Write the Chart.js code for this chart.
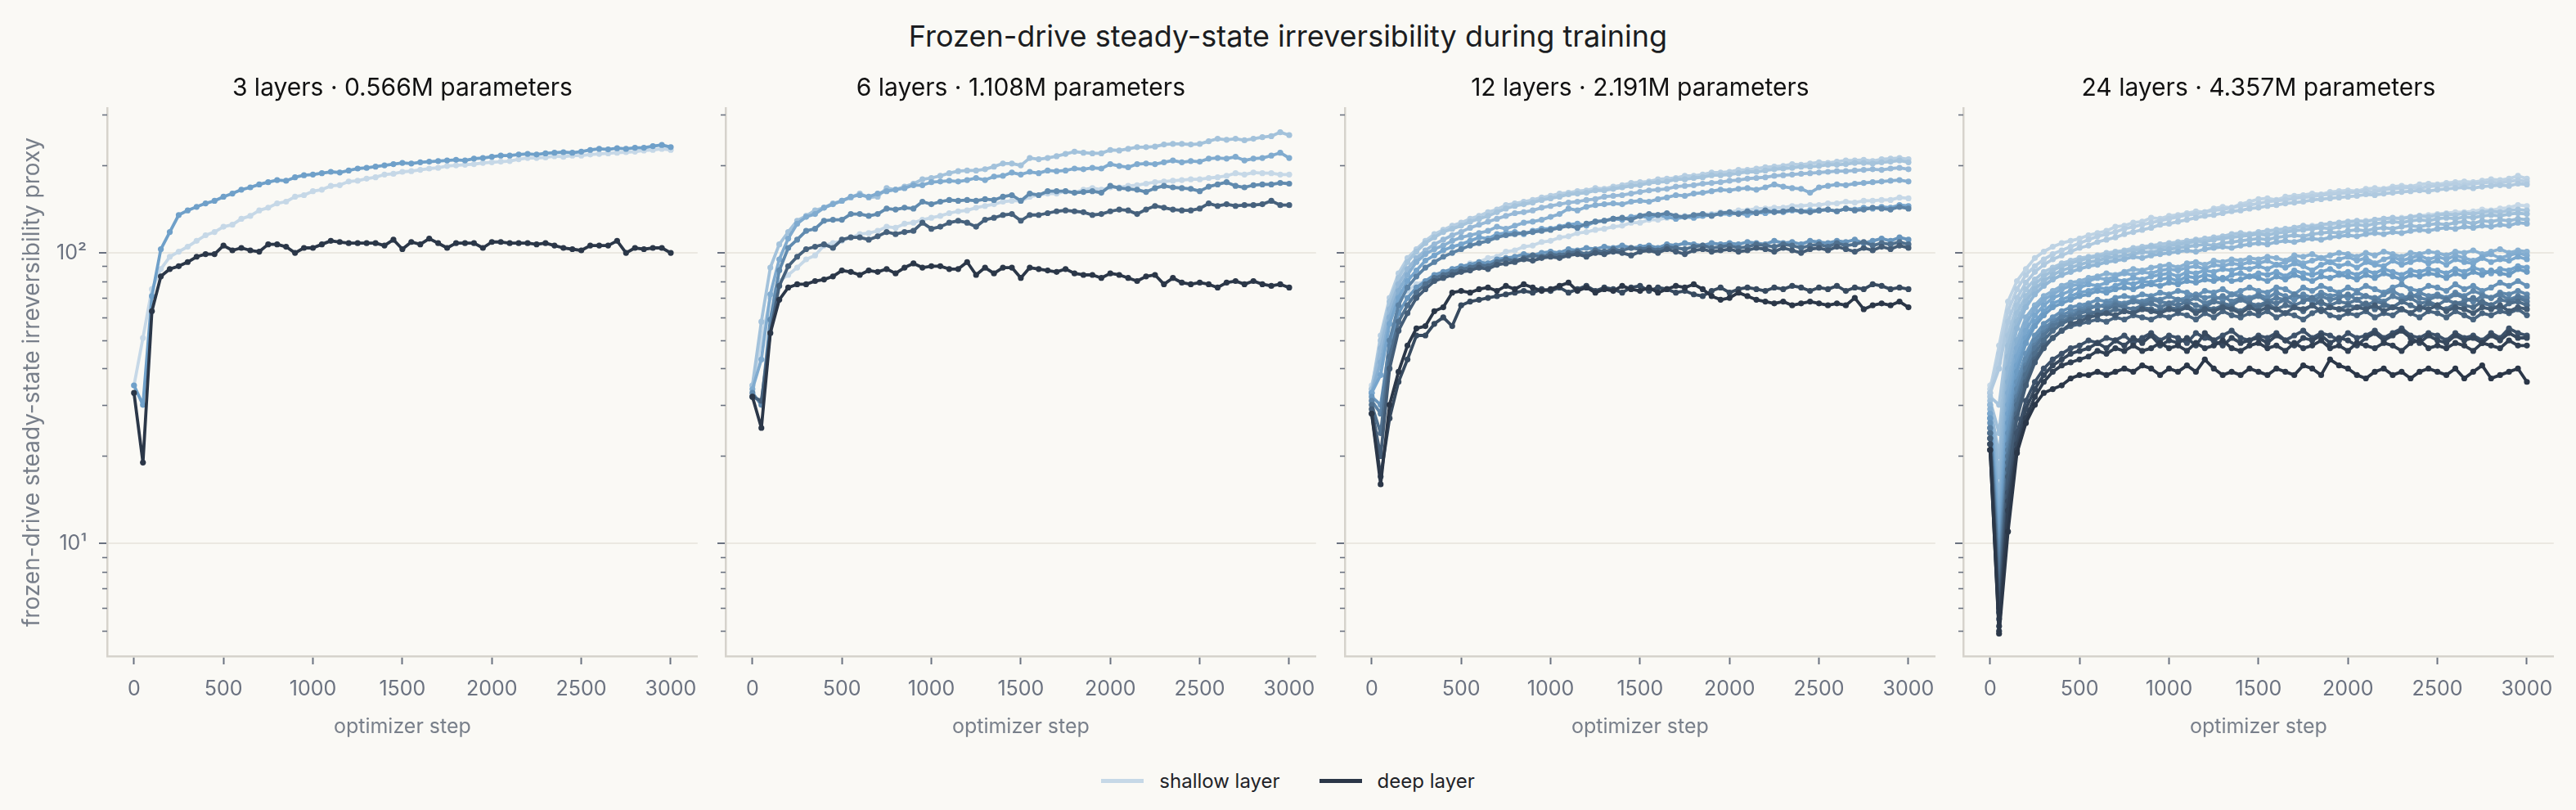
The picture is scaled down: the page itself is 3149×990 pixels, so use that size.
<!DOCTYPE html>
<html>
<head>
<meta charset="utf-8">
<title>Frozen-drive steady-state irreversibility during training</title>
<script src="https://cdn.jsdelivr.net/npm/chart.js@4.4.1/dist/chart.umd.min.js"></script>
<style>
  html, body { margin: 0; padding: 0; background: #faf9f5; }
  #fig { position: relative; width: 3149px; height: 990px; background: #faf9f5; overflow: hidden;
         font-family: Inter, 'Noto Sans', sans-serif; }
  #suptitle { position: absolute; left: 0; top: 22px; width: 3149px; text-align: center;
              font-size: 36px; line-height: 44px; color: #1b1d21; }
  canvas { position: absolute; }
  #legend { position: absolute; left: 0; top: 934px; width: 3149px; height: 40px;
            display: flex; justify-content: center; align-items: center;
            font-size: 24px; color: #1f2328; }
  .item { display: flex; align-items: center; margin: 0 24px; }
  .swatch { width: 52px; height: 5px; margin-right: 19px; }
</style>
</head>
<body>
<div id="fig">
  <div id="suptitle">Frozen-drive steady-state irreversibility during training</div>
  <canvas id="c0"></canvas>
  <canvas id="c1"></canvas>
  <canvas id="c2"></canvas>
  <canvas id="c3"></canvas>
  <div id="legend">
    <div class="item"><span class="swatch" id="swShallow"></span><span>shallow layer</span></div>
    <div class="item"><span class="swatch" id="swDeep"></span><span>deep layer</span></div>
  </div>
</div>
<script>
// optimizer steps (every 50)
const steps = [
  0, 50, 100, 150, 200, 250, 300, 350, 400, 450,
  500, 550, 600, 650, 700, 750, 800, 850, 900, 950,
  1000, 1050, 1100, 1150, 1200, 1250, 1300, 1350, 1400, 1450,
  1500, 1550, 1600, 1650, 1700, 1750, 1800, 1850, 1900, 1950,
  2000, 2050, 2100, 2150, 2200, 2250, 2300, 2350, 2400, 2450,
  2500, 2550, 2600, 2650, 2700, 2750, 2800, 2850, 2900, 2950,
  3000,
]

const xTicks = [0, 500, 1000, 1500, 2000, 2500, 3000]
const yTicks = [10, 100]
const yTickLabels = ['10¹', '10²']
const yMinorTicks = [5, 6, 7, 8, 9, 20, 30, 40, 50, 60, 70, 80, 90, 200, 300]

const panelTitles = [
  '3 layers · 0.566M parameters',
  '6 layers · 1.108M parameters',
  '12 layers · 2.191M parameters',
  '24 layers · 4.357M parameters',
]

// 3 layers, shallow -> deep
const layers3 = [
  [35, 51, 75, 88, 97, 101, 105, 110, 115, 118,
   123, 125, 131, 134, 140, 143, 148, 150, 156, 158,
   163, 165, 170, 171, 176, 177, 180, 182, 186, 187,
   190, 191, 193, 195, 196, 199, 200, 201, 202, 204,
   205, 206, 207, 210, 212, 212, 213, 215, 214, 216,
   216, 218, 219, 220, 221, 222, 223, 225, 226, 228,
   226],
  [35, 30, 71, 103, 118, 135, 140, 144, 148, 151,
   156, 160, 165, 168, 172, 175, 178, 177, 182, 185,
   186, 188, 190, 189, 192, 195, 196, 198, 200, 202,
   204, 203, 205, 206, 207, 208, 209, 208, 211, 212,
   214, 216, 216, 218, 219, 218, 220, 221, 222, 221,
   223, 226, 228, 227, 229, 228, 230, 230, 233, 235,
   231],
  [33, 19, 63, 83, 88, 90, 93, 97, 99, 99,
   106, 102, 104, 102, 101, 107, 107, 105, 100, 104,
   104, 107, 110, 109, 108, 108, 108, 108, 106, 111,
   103, 109, 107, 112, 108, 104, 108, 108, 108, 104,
   109, 109, 108, 108, 108, 107, 108, 106, 104, 103,
   102, 106, 106, 106, 110, 100, 104, 103, 104, 104,
   100],
]

// 6 layers
const layers6 = [
  [35, 50, 70, 80, 84, 89, 95, 98, 106, 108,
   110, 113, 116, 117, 119, 123, 122, 126, 127, 130,
   132, 134, 137, 139, 140, 143, 145, 147, 150, 151,
   151, 156, 158, 160, 160, 163, 161, 165, 167, 165,
   168, 168, 170, 171, 173, 175, 176, 177, 178, 179,
   179, 181, 182, 184, 188, 186, 189, 188, 188, 186,
   186],
  [35, 58, 89, 107, 118, 129, 134, 140, 143, 148,
   151, 155, 160, 155, 156, 167, 165, 169, 173, 179,
   181, 184, 188, 191, 192, 192, 194, 198, 203, 203,
   200, 212, 210, 212, 215, 219, 223, 221, 220, 220,
   226, 225, 228, 231, 231, 232, 236, 237, 237, 236,
   237, 242, 247, 245, 247, 244, 247, 250, 252, 260,
   254],
  [34, 43, 72, 95, 112, 126, 133, 136, 143, 147,
   151, 156, 158, 156, 160, 163, 165, 167, 171, 171,
   175, 176, 177, 176, 178, 181, 178, 183, 184, 189,
   186, 190, 188, 192, 191, 192, 195, 194, 196, 195,
   202, 199, 197, 202, 203, 202, 205, 208, 205, 207,
   206, 211, 212, 211, 214, 208, 211, 212, 216, 221,
   212],
  [33, 30, 59, 87, 104, 111, 119, 121, 129, 130,
   130, 136, 136, 134, 136, 142, 141, 143, 142, 150,
   147, 150, 152, 151, 152, 151, 153, 152, 156, 158,
   151, 160, 158, 163, 163, 163, 161, 162, 163, 161,
   170, 167, 166, 165, 162, 167, 170, 168, 167, 166,
   163, 169, 172, 175, 170, 168, 171, 172, 172, 174,
   173],
  [32, 31, 53, 77, 90, 97, 103, 105, 107, 104,
   111, 113, 113, 111, 114, 118, 116, 118, 119, 127,
   121, 123, 127, 129, 127, 123, 130, 132, 135, 136,
   129, 135, 135, 137, 139, 140, 139, 138, 135, 136,
   139, 141, 140, 136, 141, 145, 143, 141, 140, 140,
   142, 148, 145, 147, 145, 146, 146, 147, 151, 146,
   146],
  [32, 25, 53, 69, 76, 78, 78, 80, 81, 83,
   87, 86, 84, 87, 86, 88, 85, 89, 92, 89,
   90, 90, 88, 88, 93, 84, 89, 85, 89, 89,
   82, 89, 88, 87, 86, 88, 85, 84, 84, 82,
   85, 84, 82, 80, 83, 84, 78, 82, 79, 78,
   79, 78, 76, 79, 80, 78, 80, 78, 77, 78,
   76],
]

// 12 layers
const layers12 = [
  [35, 48, 62, 70, 74, 78, 80, 83, 84, 88,
   89, 92, 93, 96, 97, 101, 102, 105, 106, 109,
   110, 113, 114, 117, 118, 120, 121, 123, 124, 127,
   127, 130, 130, 132, 132, 134, 134, 136, 136, 138,
   138, 140, 140, 142, 142, 143, 143, 145, 145, 146,
   146, 148, 148, 150, 149, 151, 151, 152, 152, 155,
   154],
  [34, 52, 70, 85, 96, 103, 110, 116, 120, 124,
   127, 131, 134, 138, 141, 146, 148, 150, 152, 155,
   157, 160, 161, 163, 164, 167, 166, 169, 171, 174,
   175, 176, 179, 180, 181, 184, 184, 186, 189, 189,
   190, 193, 193, 195, 197, 198, 199, 202, 201, 203,
   205, 204, 206, 208, 208, 209, 207, 210, 211, 212,
   210],
  [34, 50, 68, 82, 93, 101, 108, 113, 118, 121,
   124, 128, 131, 134, 138, 142, 145, 147, 149, 152,
   154, 156, 159, 160, 161, 164, 164, 166, 168, 170,
   171, 174, 175, 176, 179, 179, 181, 182, 185, 185,
   186, 188, 190, 190, 192, 194, 195, 196, 198, 198,
   199, 201, 201, 202, 204, 204, 203, 205, 206, 208,
   205],
  [33, 47, 64, 78, 88, 96, 102, 107, 111, 115,
   118, 122, 125, 128, 131, 134, 137, 138, 140, 143,
   145, 147, 149, 150, 152, 153, 156, 157, 158, 160,
   162, 164, 165, 166, 169, 170, 171, 173, 174, 175,
   177, 178, 180, 181, 182, 184, 185, 186, 187, 188,
   189, 190, 191, 191, 192, 193, 194, 193, 195, 196,
   194],
  [33, 42, 60, 74, 84, 93, 99, 103, 106, 110,
   113, 115, 117, 119, 123, 121, 124, 127, 128, 130,
   133, 136, 142, 140, 144, 146, 147, 148, 147, 150,
   151, 150, 153, 155, 158, 157, 160, 161, 163, 165,
   164, 166, 167, 165, 168, 172, 169, 167, 166, 161,
   168, 170, 172, 171, 173, 174, 175, 176, 177, 178,
   176],
  [33, 38, 57, 70, 80, 87, 94, 98, 102, 105,
   107, 110, 113, 112, 116, 117, 118, 116, 119, 121,
   121, 123, 125, 126, 124, 128, 129, 131, 130, 133,
   134, 132, 135, 133, 131, 133, 132, 134, 135, 136,
   136, 137, 135, 138, 137, 139, 138, 140, 139, 140,
   140, 141, 139, 142, 141, 143, 142, 144, 143, 146,
   145],
  [32, 30, 48, 62, 70, 76, 80, 84, 86, 88,
   90, 91, 93, 92, 95, 96, 97, 99, 98, 100,
   101, 100, 103, 102, 104, 103, 105, 104, 106, 104,
   105, 106, 104, 107, 106, 108, 107, 106, 108, 107,
   108, 107, 109, 108, 107, 110, 108, 109, 107, 110,
   109, 108, 110, 109, 111, 108, 110, 112, 110, 113,
   111],
  [31, 28, 50, 66, 76, 83, 89, 93, 97, 100,
   103, 106, 108, 110, 113, 115, 116, 117, 118, 119,
   120, 122, 124, 122, 126, 128, 129, 131, 132, 130,
   134, 136, 135, 137, 134, 133, 135, 136, 134, 137,
   138, 136, 139, 137, 140, 138, 139, 141, 139, 138,
   140, 141, 139, 142, 140, 141, 143, 142, 141, 144,
   142],
  [30, 24, 44, 58, 66, 73, 78, 82, 84, 86,
   88, 89, 91, 90, 93, 95, 94, 96, 98, 97,
   99, 98, 100, 101, 99, 102, 101, 103, 102, 104,
   103, 104, 102, 105, 104, 103, 105, 106, 104, 105,
   106, 104, 105, 107, 106, 105, 107, 106, 104, 106,
   107, 105, 108, 106, 107, 109, 106, 108, 107, 109,
   107],
  [29, 20, 40, 54, 62, 70, 75, 80, 82, 84,
   86, 87, 89, 88, 91, 92, 93, 95, 94, 96,
   97, 96, 98, 99, 97, 100, 99, 101, 100, 98,
   101, 102, 100, 103, 101, 99, 102, 103, 101, 102,
   103, 101, 102, 104, 103, 101, 104, 102, 100, 103,
   104, 102, 105, 103, 101, 104, 102, 105, 103, 106,
   104],
  [28, 17, 27, 36, 43, 52, 52, 57, 60, 56,
   66, 68, 69, 70, 71, 72, 73, 74, 73, 75,
   74, 76, 73, 75, 77, 74, 76, 75, 73, 76,
   77, 74, 76, 75, 73, 74, 72, 71, 74, 76,
   73, 75, 76, 75, 74, 76, 75, 77, 76, 74,
   76, 75, 77, 74, 76, 75, 78, 77, 75, 76,
   75],
  [28, 16, 30, 39, 48, 55, 56, 63, 65, 73,
   74, 73, 75, 76, 74, 77, 75, 78, 76, 74,
   75, 77, 79, 74, 76, 73, 75, 74, 77, 75,
   74, 76, 73, 75, 77, 76, 78, 75, 71, 69,
   70, 73, 71, 69, 68, 67, 68, 66, 67, 68,
   67, 66, 67, 66, 70, 64, 66, 67, 66, 68,
   65],
]

// 24 layers
const layers24 = [
  [35, 42, 55, 64, 70, 75, 78, 81, 84, 86,
   88, 90, 92, 94, 95, 97, 99, 100, 102, 103,
   104, 106, 107, 109, 110, 111, 113, 114, 115, 116,
   117, 118, 120, 120, 122, 123, 124, 125, 125, 126,
   127, 128, 129, 130, 131, 131, 132, 133, 134, 135,
   136, 137, 138, 138, 139, 141, 140, 142, 143, 146,
   145],
  [34, 48, 68, 80, 88, 96, 101, 105, 108, 110,
   112, 115, 117, 119, 123, 124, 127, 128, 132, 131,
   134, 135, 137, 139, 138, 142, 144, 143, 147, 150,
   153, 154, 152, 156, 157, 158, 160, 159, 162, 163,
   164, 163, 166, 167, 166, 169, 170, 169, 172, 173,
   172, 174, 175, 176, 175, 177, 179, 178, 180, 184,
   180],
  [33, 45, 63, 75, 84, 90, 95, 99, 102, 105,
   108, 111, 114, 116, 118, 121, 123, 125, 127, 129,
   131, 133, 135, 136, 138, 140, 141, 143, 145, 146,
   148, 150, 151, 152, 154, 155, 156, 158, 159, 160,
   161, 162, 163, 162, 165, 166, 167, 168, 167, 169,
   170, 171, 172, 171, 173, 174, 175, 174, 176, 178,
   176],
  [33, 40, 58, 70, 79, 86, 91, 95, 98, 101,
   104, 106, 109, 111, 113, 116, 118, 120, 122, 125,
   126, 128, 130, 132, 134, 135, 137, 139, 140, 142,
   143, 145, 146, 148, 149, 150, 152, 153, 154, 155,
   156, 157, 159, 158, 160, 161, 162, 163, 164, 163,
   165, 166, 167, 168, 167, 169, 170, 171, 170, 173,
   172],
  [32, 30, 52, 66, 75, 81, 86, 89, 92, 94,
   96, 97, 98, 100, 101, 102, 104, 105, 106, 107,
   108, 109, 110, 111, 112, 113, 114, 116, 117, 116,
   118, 119, 120, 121, 122, 124, 123, 125, 126, 127,
   128, 129, 128, 130, 131, 132, 131, 133, 134, 133,
   135, 136, 135, 137, 136, 138, 139, 138, 140, 141,
   140],
  [31, 24, 48, 62, 71, 78, 83, 87, 90, 92,
   94, 96, 97, 98, 100, 101, 102, 103, 105, 104,
   106, 107, 108, 110, 109, 111, 112, 113, 114, 115,
   116, 115, 117, 118, 119, 120, 121, 122, 121, 123,
   124, 125, 124, 126, 127, 128, 127, 129, 130, 129,
   131, 132, 131, 133, 132, 134, 135, 134, 136, 137,
   136],
  [30, 20, 44, 58, 68, 75, 80, 84, 87, 89,
   91, 93, 94, 96, 97, 98, 99, 101, 100, 102,
   103, 104, 105, 106, 107, 106, 108, 109, 110, 111,
   112, 111, 113, 114, 115, 114, 116, 117, 118, 117,
   119, 120, 119, 121, 122, 121, 123, 124, 123, 125,
   126, 125, 127, 128, 126, 129, 128, 130, 129, 131,
   130],
  [30, 17, 40, 55, 65, 72, 77, 81, 84, 86,
   88, 90, 91, 93, 94, 95, 97, 96, 98, 99,
   100, 101, 102, 101, 103, 104, 105, 104, 106, 107,
   108, 107, 109, 110, 109, 111, 112, 111, 113, 114,
   115, 114, 116, 117, 116, 118, 117, 119, 120, 119,
   121, 122, 121, 123, 122, 124, 123, 125, 124, 127,
   126],
  [29, 14, 36, 50, 60, 66, 71, 74, 77, 79,
   80, 82, 83, 85, 84, 86, 88, 87, 89, 90,
   91, 89, 92, 93, 91, 94, 93, 95, 94, 96,
   95, 97, 96, 94, 98, 97, 99, 96, 98, 100,
   99, 97, 100, 98, 101, 99, 97, 100, 99, 101,
   100, 98, 101, 100, 102, 99, 101, 103, 100, 102,
   101],
  [28, 12, 33, 47, 57, 64, 69, 72, 75, 77,
   78, 80, 82, 81, 83, 85, 84, 86, 85, 87,
   88, 87, 89, 90, 88, 91, 90, 92, 91, 93,
   92, 94, 91, 93, 95, 92, 94, 96, 93, 95,
   97, 94, 96, 92, 95, 97, 94, 96, 98, 95,
   97, 95, 98, 96, 94, 97, 99, 96, 98, 100,
   98],
  [28, 11, 30, 44, 54, 61, 66, 70, 72, 74,
   76, 78, 77, 79, 81, 80, 82, 81, 83, 84,
   85, 83, 86, 85, 87, 86, 88, 87, 89, 88,
   90, 88, 91, 89, 92, 90, 87, 91, 93, 90,
   92, 89, 93, 91, 90, 94, 91, 93, 95, 92,
   94, 91, 95, 93, 92, 96, 93, 95, 94, 97,
   95],
  [27, 10, 28, 41, 51, 58, 63, 67, 69, 71,
   73, 74, 76, 75, 77, 79, 78, 80, 79, 81,
   82, 80, 83, 82, 84, 83, 81, 84, 85, 83,
   85, 84, 86, 83, 87, 85, 84, 86, 88, 85,
   86, 84, 87, 85, 88, 86, 84, 87, 86, 88,
   87, 85, 88, 86, 89, 87, 85, 88, 87, 90,
   89],
  [27, 9, 26, 39, 49, 56, 61, 65, 67, 69,
   71, 72, 74, 73, 75, 76, 75, 77, 78, 77,
   79, 78, 80, 79, 81, 80, 82, 80, 81, 83,
   82, 80, 83, 81, 84, 82, 80, 83, 82, 84,
   83, 81, 84, 82, 85, 83, 81, 84, 83, 85,
   84, 82, 85, 83, 86, 84, 87, 85, 84, 88,
   86],
  [26, 8.5, 24, 36, 45, 52, 57, 60, 63, 65,
   66, 67, 69, 68, 70, 71, 70, 72, 71, 73,
   72, 74, 73, 71, 74, 73, 75, 72, 74, 76,
   74, 73, 76, 75, 72, 76, 74, 77, 75, 73,
   76, 74, 77, 75, 73, 76, 78, 75, 74, 77,
   76, 74, 78, 75, 77, 74, 76, 79, 77, 80,
   77],
  [25, 8, 22, 34, 43, 50, 55, 58, 61, 63,
   64, 66, 65, 67, 68, 67, 69, 68, 70, 69,
   71, 69, 70, 72, 70, 71, 69, 72, 71, 70,
   72, 70, 73, 71, 69, 72, 70, 73, 71, 72,
   70, 73, 71, 69, 72, 74, 71, 70, 73, 71,
   72, 70, 73, 71, 74, 72, 70, 73, 72, 74,
   72],
  [25, 7.5, 21, 32, 41, 48, 53, 57, 60, 61,
   63, 64, 66, 65, 67, 66, 68, 67, 69, 68,
   67, 69, 68, 70, 67, 69, 71, 68, 70, 69,
   71, 68, 70, 69, 72, 70, 68, 71, 69, 70,
   72, 69, 71, 70, 68, 71, 69, 72, 70, 69,
   71, 69, 72, 70, 68, 71, 70, 72, 69, 71,
   70],
  [24, 7, 20, 31, 40, 47, 52, 56, 58, 60,
   62, 63, 62, 64, 66, 65, 64, 66, 67, 65,
   67, 66, 68, 66, 65, 68, 67, 66, 69, 67,
   66, 68, 67, 69, 66, 68, 70, 67, 66, 68,
   67, 69, 66, 68, 67, 65, 68, 70, 67, 68,
   66, 69, 67, 68, 70, 67, 66, 69, 68, 70,
   68],
  [24, 6.5, 19, 30, 38, 45, 50, 54, 57, 59,
   60, 61, 63, 62, 64, 63, 62, 65, 64, 63,
   65, 64, 66, 63, 65, 64, 66, 65, 63, 66,
   65, 67, 64, 66, 65, 63, 66, 68, 65, 64,
   66, 65, 67, 64, 66, 65, 68, 66, 64, 67,
   65, 64, 67, 66, 65, 68, 66, 64, 67, 68,
   66],
  [23, 6, 18, 28, 36, 43, 48, 51, 54, 56,
   57, 58, 59, 58, 60, 59, 61, 60, 59, 61,
   60, 62, 61, 59, 62, 60, 63, 61, 60, 62,
   61, 63, 60, 62, 61, 59, 62, 64, 61, 60,
   62, 61, 63, 60, 62, 61, 64, 62, 60, 63,
   62, 60, 63, 61, 59, 62, 61, 63, 62, 64,
   61],
  [23, 5.8, 17, 27, 35, 42, 47, 51, 54, 57,
   58, 60, 61, 62, 61, 63, 62, 64, 63, 62,
   64, 63, 65, 62, 64, 63, 65, 64, 62, 65,
   63, 65, 64, 62, 65, 64, 66, 63, 65, 64,
   63, 65, 64, 66, 63, 65, 64, 62, 65, 64,
   66, 63, 65, 64, 62, 65, 64, 66, 63, 65,
   64],
  [22, 5.5, 15, 24, 31, 36, 40, 43, 45, 47,
   48, 50, 49, 51, 50, 52, 49, 51, 53, 50,
   52, 51, 49, 53, 51, 50, 52, 54, 51, 50,
   52, 51, 53, 50, 52, 54, 51, 53, 52, 50,
   53, 51, 52, 54, 51, 53, 55, 52, 51, 53,
   52, 50, 53, 51, 52, 50, 53, 51, 55, 53,
   52],
  [22, 5.2, 14, 22, 29, 34, 38, 41, 43, 45,
   46, 47, 49, 47, 50, 48, 51, 49, 52, 48,
   50, 49, 51, 48, 53, 50, 48, 51, 49, 50,
   51, 49, 52, 50, 48, 51, 50, 52, 49, 51,
   50, 48, 51, 53, 50, 52, 54, 51, 49, 52,
   50, 49, 52, 50, 51, 49, 52, 50, 53, 51,
   51],
  [21, 5.0, 13, 21, 27, 32, 36, 39, 41, 42,
   43, 44, 46, 45, 47, 46, 48, 46, 47, 49,
   47, 48, 46, 49, 47, 48, 50, 47, 46, 48,
   49, 47, 48, 46, 49, 47, 48, 50, 47, 48,
   46, 49, 48, 47, 49, 48, 46, 49, 50, 47,
   48, 47, 49, 48, 46, 49, 48, 47, 50, 48,
   48],
  [21, 4.9, 11, 20.5, 26, 30, 33, 34, 35, 37,
   38, 38, 39, 38, 39, 40, 39, 41, 40, 38,
   40, 39, 41, 39, 43, 40, 38, 39, 38, 40,
   39, 38, 40, 39, 38, 41, 40, 38, 43, 41,
   40, 38, 37, 39, 40, 38, 39, 37, 39, 40,
   39, 38, 40, 37, 39, 41, 37, 38, 39, 40,
   36],
]

const panelSeries = [layers3, layers6, layers12, layers24]

// layout of the four panels (px)
const plotLefts = [131, 887, 1644, 2400]
const plotWidth = 726
const yAxisWidths = [131, 15, 15, 15]
const canvasTop = 80
const canvasHeight = 823
const xAxisHeight = 101
const rightPad = 10

// shallow -> mid -> deep colour ramp
const rampStops = [[198, 216, 231], [111, 160, 201], [43, 55, 72]]

function layerColor(t) {
  const seg = t <= 0.5 ? 0 : 1
  const f = seg === 0 ? t / 0.5 : (t - 0.5) / 0.5
  const a = rampStops[seg]
  const b = rampStops[seg + 1]
  const c = a.map((v, k) => Math.round(v + (b[k] - v) * f))
  return `rgb(${c[0]}, ${c[1]}, ${c[2]})`
}

const tickColor = '#6b7280'
const labelColor = '#787f8a'
const fontFamily = "Inter, 'Noto Sans', sans-serif"

const minorTicks = {
  id: 'minorTicks',
  afterDraw(chart) {
    const y = chart.scales.y
    const ctx = chart.ctx
    ctx.save()
    ctx.strokeStyle = tickColor
    ctx.lineWidth = 1.6
    yMinorTicks.forEach((v) => {
      if (v < y.min || v > y.max) return
      const py = Math.round(y.getPixelForValue(v)) + 0.5
      ctx.beginPath()
      ctx.moveTo(chart.chartArea.left - 6, py)
      ctx.lineTo(chart.chartArea.left, py)
      ctx.stroke()
    })
    ctx.restore()
  },
}

function makePanel(idx) {
  const canvas = document.getElementById('c' + idx)
  const w = yAxisWidths[idx] + plotWidth + rightPad
  canvas.width = w
  canvas.height = canvasHeight
  canvas.style.left = (plotLefts[idx] - yAxisWidths[idx]) + 'px'
  canvas.style.top = canvasTop + 'px'
  canvas.style.width = w + 'px'
  canvas.style.height = canvasHeight + 'px'

  const series = panelSeries[idx]
  const n = series.length
  const datasets = series.map((vals, i) => {
    const color = layerColor(i / (n - 1))
    return {
      label: 'layer ' + i,
      data: steps.map((s, k) => ({ x: s, y: vals[k] })),
      borderColor: color,
      backgroundColor: color,
      pointBackgroundColor: color,
      borderWidth: 3.8,
      borderJoinStyle: 'round',
      borderCapStyle: 'round',
      pointRadius: 3.6,
      pointBorderWidth: 0,
      pointHoverRadius: 0,
      tension: 0,
      order: n - i,
    }
  })

  const first = idx === 0

  new Chart(canvas, {
    type: 'line',
    data: { datasets },
    options: {
      responsive: false,
      animation: false,
      devicePixelRatio: 1,
      events: [],
      layout: { padding: { left: 0, right: rightPad, top: 0, bottom: 0 } },
      plugins: {
        legend: { display: false },
        tooltip: { enabled: false },
        title: {
          display: true,
          text: panelTitles[idx],
          fullSize: false,
          color: '#111111',
          font: { family: fontFamily, size: 30, weight: 'normal' },
          padding: { top: 10, bottom: 6 },
        },
      },
      scales: {
        x: {
          type: 'linear',
          min: -150,
          max: 3150,
          afterBuildTicks: (scale) => {
            scale.ticks = xTicks.map((v) => ({ value: v }))
          },
          afterFit: (scale) => {
            scale.height = xAxisHeight
          },
          ticks: {
            autoSkip: false,
            maxRotation: 0,
            color: tickColor,
            padding: 15,
            font: { family: fontFamily, size: 25 },
            callback: (v) => String(v),
          },
          grid: {
            drawOnChartArea: false,
            tickLength: 10,
            tickWidth: 2,
            tickColor: tickColor,
          },
          border: { display: true, color: '#d6d3cc', width: 2.5 },
          title: {
            display: true,
            text: 'optimizer step',
            color: labelColor,
            font: { family: fontFamily, size: 25 },
            padding: { top: 0, bottom: 0 },
          },
        },
        y: {
          type: 'logarithmic',
          min: 4.1,
          max: 315,
          afterBuildTicks: (scale) => {
            scale.ticks = yTicks.map((v) => ({ value: v }))
          },
          afterFit: (scale) => {
            scale.width = yAxisWidths[idx]
          },
          ticks: {
            display: first,
            color: tickColor,
            padding: 15,
            font: { family: fontFamily, size: 25 },
            callback: (v) => yTickLabels[yTicks.indexOf(v)],
          },
          grid: {
            color: '#ebe8e1',
            lineWidth: 2,
            tickLength: 10,
            tickWidth: 2,
            tickColor: tickColor,
          },
          border: { display: true, color: '#d6d3cc', width: 2.5 },
          title: {
            display: first,
            text: 'frozen-drive steady-state irreversibility proxy',
            color: labelColor,
            font: { family: fontFamily, size: 28 },
            padding: { top: 23, bottom: 0 },
          },
        },
      },
    },
    plugins: [minorTicks],
  })
}

document.getElementById('swShallow').style.background = layerColor(0)
document.getElementById('swDeep').style.background = layerColor(1)

for (let i = 0; i < 4; i++) makePanel(i)
</script>
</body>
</html>
